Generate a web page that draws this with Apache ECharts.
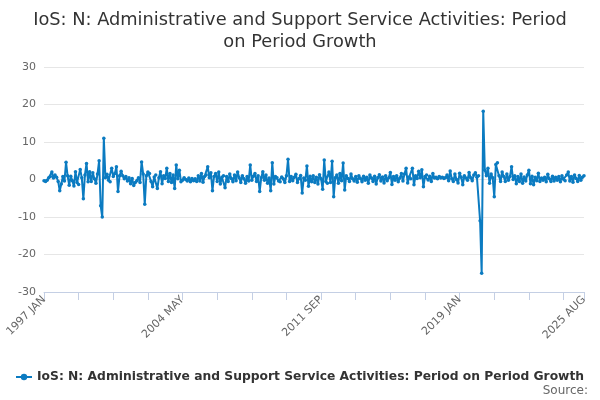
<!DOCTYPE html>
<html>
<head>
<meta charset="utf-8">
<script src="https://cdn.jsdelivr.net/npm/echarts@6/dist/echarts.min.js"></script>
<style>
  html, body { margin: 0; padding: 0; background: #fff; }
  #main { width: 600px; height: 400px; }
</style>
</head>
<body>
<div id="main"></div>
<script>
// monthly values, 1997 JAN .. 2025 AUG
var growth1997to2000 = [
  -0.3, -0.5, -0.2, 0.5, 0.8, 2.0, 0.4, 1.2, 0.6, -0.5, -3.0, -1.2,
  0.8, -0.4, 4.6, 1.0, -1.5, 0.9, -0.3, -1.7, 2.1, -0.8, -1.3, 2.7,
  0.5, -5.1, 1.2, 4.3, -0.6, 2.1, -0.5, 1.8, 0.2, -1.0, 1.5, 5.0,
  -7.0, -10.0, 11.0, 0.5, 1.4, -0.2, -0.6, 3.0, 0.8, 1.6, 3.4, -3.2
];
var growth2001to2004 = [
  1.0, 2.2, 1.0, 0.2, 0.8, -0.4, 0.5, -1.1, 0.3, -1.6, -0.8, -0.3,
  0.5, -0.8, 4.7, 1.5, -6.6, 1.0, 2.0, 1.6, -0.5, -1.9, 0.7, 1.2,
  -2.4, 0.5, 2.1, -1.1, 1.0, 0.3, 3.0, -0.5, 1.6, -0.8, 1.2, -2.4,
  3.9, 0.2, 2.5, -0.6, -0.2, 0.5, 0.0, -0.4, 0.4, -0.6, 0.3, -0.3
];
var growth2005to2008 = [
  0.2, -0.5, 1.0, -0.4, 1.6, -0.7, 0.8, 1.2, 3.4, 0.5, 1.8, -3.0,
  0.8, 1.6, -0.5, 2.0, -1.2, 0.6, 1.0, -2.2, 0.8, -0.5, 1.5, 0.3,
  -0.6, 1.2, -0.3, 2.0, 0.5, -0.8, 1.0, 0.2, -1.0, 0.8, -0.4, 3.9,
  -0.2, 0.9, 1.6, -0.5, 1.0, -3.2, 0.5, 2.1, -0.2, 1.2, -1.0, 0.4
];
var growth2009to2012 = [
  -3.0, 4.5, -1.2, 0.8, 0.5, -0.4, -0.6, 0.7, 0.2, -0.8, 1.0, 5.4,
  -0.5, 0.8, -0.3, 0.6, 1.4, -0.8, 0.3, 1.1, -3.6, 0.4, -0.2, 3.6,
  -1.8, 0.9, -0.6, 1.0, -0.8, 0.6, -1.2, 1.3, 0.2, -2.6, 5.2, -0.5,
  -1.0, 2.0, -0.8, 4.9, -4.6, 0.5, 1.2, -1.0, 1.6, -0.3, 4.4, -2.8
];
var growth2013to2016 = [
  1.0, 0.3, -0.5, 1.5, 0.2, -0.4, 0.8, -0.7, 1.0, 0.3, -0.6, 0.9,
  -0.2, 0.6, -1.0, 1.2, 0.4, -0.5, 0.9, -1.2, 0.5, 1.3, -0.4, 0.7,
  -0.9, 1.0, -0.3, 0.5, 1.9, -1.3, 0.8, -0.2, 1.0, -0.6, 0.4, 1.6,
  -0.4, 1.5, 3.0, -0.9, 0.7, 0.2, 3.0, -1.4, 1.0, 0.3, 2.2, 0.5
];
var growth2017to2020 = [
  2.6, -1.9, 0.8, 1.2, -0.1, 0.9, -0.5, 1.6, 0.4, 0.6, 0.2, 0.8,
  0.4, 0.6, 0.3, 0.5, 1.2, -0.3, 2.3, 0.2, -0.5, 1.5, 0.0, -0.9,
  1.7, 0.6, -1.4, 1.0, 0.4, -0.2, 1.9, 0.5, -0.3, 1.2, 1.8, 0.6,
  1.0, -11.0, -25.0, 18.2, 2.5, 1.0, 3.0, -1.0, 1.5, 0.5, -4.6, 4.0
];
var growth2021to2025 = [
  4.5, 1.0, -0.5, 2.0, 0.8, -0.5, 1.5, -0.2, 0.8, 3.4, 0.0, 1.0,
  -1.1, 0.8, -0.5, 1.5, -1.0, 0.7, -0.4, 1.2, 2.5, -1.1, 0.9, -1.4,
  0.6, -0.3, 1.7, -0.5, 0.4, -0.2, 0.6, -0.6, 1.4, 0.2, -0.5, 0.9,
  -0.4, 0.6, -0.2, 0.8, -0.6, 1.0, 0.1, -0.3, 1.2, 2.0, -0.4, 0.8,
  -0.7, 1.2, 0.3, -0.5, 1.1, -0.2, 0.6, 1.0
];
var monthNames = ['JAN', 'FEB', 'MAR', 'APR', 'MAY', 'JUN', 'JUL', 'AUG', 'SEP', 'OCT', 'NOV', 'DEC'];
var firstYear = 1997;
var yTicks = [-30, -20, -10, 0, 10, 20, 30];
// month positions (index from 1997 JAN) that carry an x tick / a label
var tickMonths = [0, 22, 44, 66, 88, 110, 132, 154, 176, 198, 220, 242, 264, 286, 308, 330, 343];
var labelMonths = [0, 88, 176, 264, 343];
var seriesName = 'IoS: N: Administrative and Support Service Activities: Period on Period Growth';

var growth = [].concat(growth1997to2000, growth2001to2004, growth2005to2008,
  growth2009to2012, growth2013to2016, growth2017to2020, growth2021to2025);

// category labels like "1997 JAN"
var months = [];
for (var i = 0; i < growth.length; i++) {
  months.push((firstYear + Math.floor(i / 12)) + ' ' + monthNames[i % 12]);
}

var myChart = echarts.init(document.getElementById('main'));
myChart.setOption({
  animation: false,
  textStyle: { fontFamily: 'DejaVu Sans' },
  title: {
    text: 'IoS: N: Administrative and Support Service Activities: Period\non Period Growth',
    left: 'center',
    top: 4,
    textStyle: {
      fontSize: 17.8,
      fontWeight: 'normal',
      color: '#333',
      lineHeight: 22,
      fontFamily: 'DejaVu Sans'
    }
  },
  legend: {
    top: 366,
    left: 10,
    itemWidth: 16,
    itemHeight: 8,
    textStyle: { fontSize: 12.3, fontWeight: 'bold', color: '#333' },
    data: [seriesName]
  },
  graphic: [{
    type: 'text',
    right: 12,
    top: 385,
    style: { text: 'Source:', fontSize: 12, fill: '#666', fontFamily: 'DejaVu Sans' }
  }],
  grid: {
    left: 44,
    right: 16,
    top: 67,
    bottom: 108
  },
  xAxis: {
    type: 'category',
    boundaryGap: false,
    data: months,
    axisLine: { onZero: false, lineStyle: { color: '#c4cfe4' } },
    axisTick: {
      show: true,
      length: 8,
      lineStyle: { color: '#c4cfe4' },
      customValues: tickMonths
    },
    axisLabel: {
      rotate: 45,
      color: '#666',
      fontSize: 11,
      margin: 6,
      customValues: labelMonths
    },
    splitLine: { show: false }
  },
  yAxis: {
    type: 'value',
    min: yTicks[0],
    max: yTicks[yTicks.length - 1],
    interval: 10,
    axisLine: { show: false },
    axisTick: { show: false },
    axisLabel: { color: '#666', fontSize: 11, margin: 8 },
    splitLine: { lineStyle: { color: '#e6e6e6' } }
  },
  series: [{
    name: seriesName,
    type: 'line',
    data: growth,
    symbol: 'circle',
    symbolSize: 3.5,
    showSymbol: true,
    showAllSymbol: true,
    itemStyle: { color: '#0b7bc1' },
    lineStyle: { width: 2, color: '#0b7bc1' }
  }]
});
</script>
</body>
</html>
